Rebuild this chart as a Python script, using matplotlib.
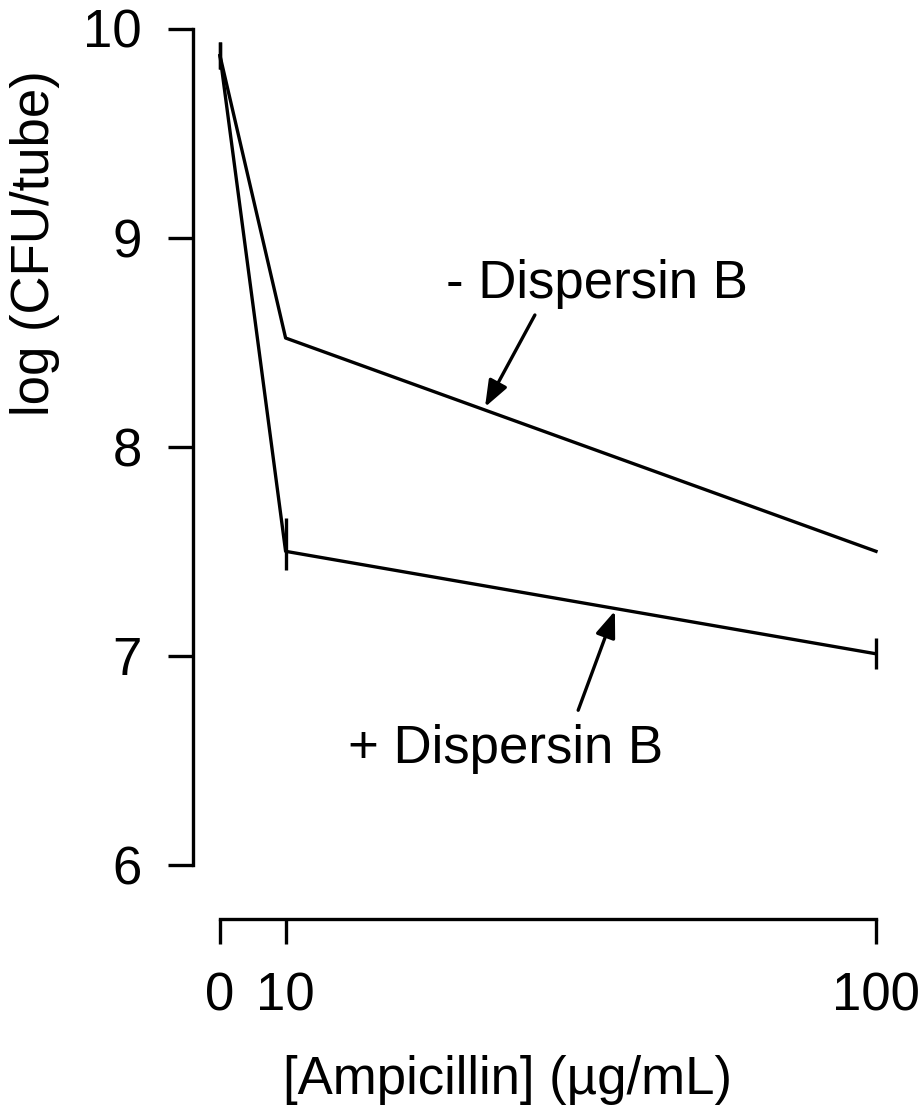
import matplotlib
matplotlib.use("Agg")
import matplotlib.pyplot as plt

plt.rcParams['font.family'] = ['Liberation Sans', 'DejaVu Sans']

# ampicillin concentration (ug/mL)
ampicillin = [0, 10, 100]

# log CFU per tube
minus_db = [9.87, 8.52, 7.50]
minus_err_low = [0.065, 0.0, 0.0]
minus_err_high = [0.065, 0.0, 0.0]

plus_db = [9.87, 7.50, 7.01]
plus_err_low = [0.065, 0.09, 0.075]
plus_err_high = [0.065, 0.16, 0.075]

x_ticks = [0, 10, 100]
y_ticks = [6, 7, 8, 9, 10]

W, H = 921, 1110
fig = plt.figure(figsize=(W / 100, H / 100), dpi=100)
ax = fig.add_axes([220 / W, (H - 865) / H, (876 - 220) / W, (865 - 28.5) / H])

lw = 2.4
fs = 38

ax.plot(ampicillin, minus_db, color='black', lw=lw, clip_on=False)
ax.plot(ampicillin, plus_db, color='black', lw=lw, clip_on=False)
ax.errorbar(ampicillin, minus_db, yerr=[minus_err_low, minus_err_high],
            fmt='none', ecolor='black', elinewidth=lw, capsize=0, clip_on=False)
ax.errorbar(ampicillin, plus_db, yerr=[plus_err_low, plus_err_high],
            fmt='none', ecolor='black', elinewidth=lw, capsize=0, clip_on=False)

ax.set_xlim(0, 100)
ax.set_ylim(6, 10)

# R style detached axes
for s in ['top', 'right']:
    ax.spines[s].set_visible(False)
ax.spines['left'].set_position(('outward', 27 * 0.72))
ax.spines['bottom'].set_position(('outward', 54 * 0.72))
ax.spines['left'].set_bounds(6, 10)
ax.spines['bottom'].set_bounds(0, 100)
ax.spines['left'].set_linewidth(lw)
ax.spines['bottom'].set_linewidth(lw)

ax.set_xticks(x_ticks)
ax.set_yticks(y_ticks)
ax.tick_params(axis='both', length=18, width=lw, labelsize=fs, direction='out')
ax.tick_params(axis='x', pad=20)
ax.tick_params(axis='y', pad=19)

fig.text(35 / W, 1 - 243 / H, 'log (CFU/tube)', rotation=90, fontsize=fs,
         ha='center', va='center')
fig.text(507 / W, 1 - 1080 / H, '[Ampicillin] (µg/mL)', fontsize=fs,
         ha='center', va='center')

# labels with arrows
arrow = dict(arrowstyle='-|>,head_length=1.0,head_width=0.38', color='black',
             lw=lw, mutation_scale=16, shrinkA=0, shrinkB=0)
ax.annotate('', xy=(40.4, 8.19), xytext=(48.0, 8.63), arrowprops=arrow,
            annotation_clip=False)
ax.annotate('', xy=(60.2, 7.215), xytext=(54.6, 6.74), arrowprops=arrow,
            annotation_clip=False)
ax.text(57.5, 8.78, '- Dispersin B', fontsize=fs, ha='center', va='center')
ax.text(43.6, 6.555, '+ Dispersin B', fontsize=fs, ha='center', va='center')

fig.savefig('out.png', dpi=100)
